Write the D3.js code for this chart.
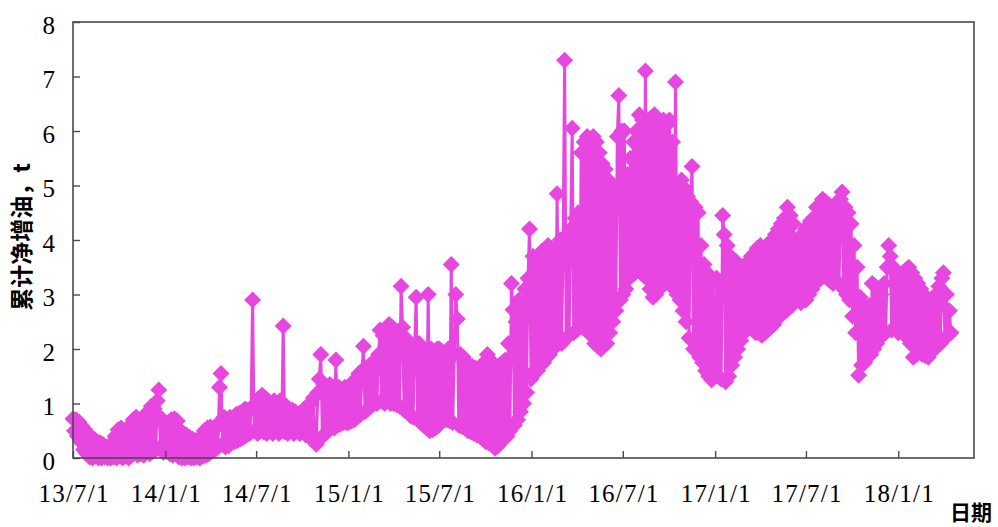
<!DOCTYPE html>
<html>
<head>
<meta charset="utf-8">
<script src="https://cdn.jsdelivr.net/npm/d3@7"></script>
<style>
  html, body { margin: 0; padding: 0; background: #ffffff; }
  svg { display: block; }
</style>
</head>
<body>
<svg id="chart" width="998" height="527"></svg>
<script>
// Cumulative net oil increment (t), sampled every 3 days, one array per half-year.
const sampleStepDays = 3;

const seg2013H2 = [0.72,0.5,0.7,0.4,0.66,0.3,0.58,0.15,0.52,0.08,0.42,0.02,0.38,0.0,0.35,0.03,0.3,0.0,0.28,0.0,
  0.25,0.02,0.2,0.0,0.22,0.0,0.18,0.02,0.4,0.0,0.52,0.05,0.55,0.0,0.45,0.03,0.38,0.0,0.6,0.05,
  0.7,0.1,0.75,0.05,0.68,0.08,0.72,0.05,0.8,0.1,0.85,0.08,0.95,0.12,0.9,0.15,1.05,1.25,0.2,0.72,
  0.1,0.65];
const seg2014H1 = [0.6,0.12,0.65,0.08,0.7,0.05,0.72,0.1,0.68,0.02,0.5,0.0,0.45,0.0,0.42,0.02,0.38,0.0,0.35,0.0,
  0.32,0.02,0.3,0.0,0.4,0.03,0.5,0.05,0.55,0.08,0.57,0.12,0.5,0.15,0.6,0.2,1.3,1.55,0.25,0.75,
  0.2,0.7,0.22,0.75,0.28,0.7,0.3,0.8,0.32,0.82,0.35,0.85,0.38,0.9,0.42,0.88,0.45,0.9,2.9,0.5,
  1.0];
const seg2014H2 = [1.0,0.45,1.1,0.5,1.15,0.48,1.1,0.45,1.05,0.5,1.0,0.45,1.05,0.5,0.98,0.45,1.05,0.5,2.42,0.48,
  0.95,0.45,0.9,0.5,0.88,0.45,0.85,0.5,0.8,0.45,0.82,0.5,0.9,0.42,0.95,0.4,1.0,0.35,1.1,0.3,
  0.25,1.2,1.45,1.9,0.4,1.35,0.45,1.3,0.5,1.35,0.55,1.3,0.55,1.8,0.6,1.3,0.62,1.25,0.65,1.3,
  0.65,1.25];
const seg2015H1 = [0.65,1.3,0.68,1.4,0.7,1.45,0.75,1.55,0.8,1.6,2.05,0.85,1.65,0.9,1.7,0.95,1.75,1.0,1.8,1.0,
  1.9,2.35,1.05,2.25,1.0,2.3,1.05,2.45,1.0,2.4,1.0,2.35,0.98,2.3,0.95,3.15,2.4,0.88,2.2,0.85,
  2.1,0.78,2.05,0.75,2.0,2.95,0.7,2.1,0.65,2.0,0.6,1.95,0.55,3.0,0.5,2.0,0.52,1.95,0.55,2.0,
  0.6];
const seg2015H2 = [2.0,0.75,1.95,0.72,1.9,0.7,2.0,0.68,3.55,0.65,1.9,3.0,2.55,0.6,1.9,0.58,1.85,0.55,1.75,0.5,
  1.7,0.48,1.68,0.45,1.65,0.42,1.6,0.4,1.7,0.35,1.75,0.3,1.9,0.28,1.8,0.25,1.65,0.18,1.6,0.22,
  1.7,0.3,1.75,0.35,1.8,0.4,2.1,0.5,3.2,2.72,0.6,2.5,0.7,2.9,0.85,2.8,1.0,3.1,1.2,3.3,
  4.2,1.45];
const seg2016H1 = [1.55,3.7,1.58,3.5,1.6,3.6,1.7,3.8,1.75,3.75,1.85,3.9,1.9,3.85,2.0,3.8,2.05,4.85,2.1,4.0,
  2.1,3.95,7.3,2.2,4.1,2.25,4.2,6.05,2.3,4.4,2.35,4.5,2.4,5.6,2.4,5.8,2.35,5.9,2.3,5.85,
  2.25,5.9,2.1,5.8,2.05,5.6,2.0,5.4,2.05,5.3,2.1,5.1,2.3,5.0,2.5,4.85,2.7,5.9,6.65,2.9,
  6.0];
const seg2016H2 = [3.0,6.0,3.1,5.2,3.3,5.5,3.35,5.8,3.4,6.0,3.45,6.3,3.4,6.2,3.35,7.1,3.3,6.2,3.1,6.25,
  2.95,6.3,3.0,6.1,3.1,6.0,3.15,6.2,3.2,6.1,3.25,6.2,3.2,5.8,3.1,6.9,3.0,5.0,2.9,5.1,
  2.7,4.95,2.5,4.8,2.2,4.7,5.35,2.0,4.6,1.95,4.5,1.85,3.9,1.75,3.55,1.6,3.4,1.5,3.3,1.43,
  3.2,1.5];
const seg2017H1 = [1.55,3.3,1.5,3.2,1.45,4.45,4.1,1.4,3.9,1.5,3.7,1.7,3.65,1.85,3.6,2.0,3.5,2.15,3.5,2.3,
  3.55,2.35,3.6,2.4,3.7,2.35,3.75,2.3,3.85,2.3,3.9,2.25,3.85,2.3,3.8,2.35,3.95,2.4,4.0,2.45,
  4.1,2.55,4.2,2.6,4.3,2.65,4.4,2.7,4.6,2.75,4.45,2.8,4.3,2.9,4.0,2.9,4.0,2.85,4.1,2.9,
  4.2];
const seg2017H2 = [2.9,4.25,3.0,4.35,3.1,4.4,3.2,4.6,3.25,4.55,3.3,4.75,3.35,4.7,3.3,4.65,3.25,4.5,3.2,4.6,
  3.25,4.7,3.2,4.75,4.88,3.1,4.6,3.0,4.5,2.9,4.3,2.6,3.9,2.3,3.5,1.52,2.95,1.7,2.8,1.75,
  2.6,1.85,2.8,1.9,3.2,2.0,3.15,2.1,3.1,2.2,3.0,2.25,3.2,2.3,3.5,3.9,3.7,2.35,3.5,2.4,
  3.4,2.35];
const seg2018H1 = [2.3,3.3,2.35,3.4,2.3,3.45,2.2,3.5,2.1,3.4,1.85,3.3,1.9,3.2,2.0,3.1,1.9,3.0,1.88,2.85,
  1.85,2.8,1.95,2.9,2.0,3.0,2.05,3.15,2.1,3.3,3.4,2.2,3.0,2.25,2.7,2.3];

const segmentStarts = ["2013-07-01","2014-01-01","2014-07-01","2015-01-01","2015-07-01",
                       "2016-01-01","2016-07-01","2017-01-01","2017-07-01","2018-01-01"];
const segments = [seg2013H2, seg2014H1, seg2014H2, seg2015H1, seg2015H2,
                  seg2016H1, seg2016H2, seg2017H1, seg2017H2, seg2018H1];

const xTickDates = ["2013-07-01","2014-01-01","2014-07-01","2015-01-01","2015-07-01",
                    "2016-01-01","2016-07-01","2017-01-01","2017-07-01","2018-01-01"];
const xTickLabels = ["13/7/1","14/1/1","14/7/1","15/1/1","15/7/1",
                     "16/1/1","16/7/1","17/1/1","17/7/1","18/1/1"];
const yTicks = [0,1,2,3,4,5,6,7,8];
const yTitle = "累计净增油，t";
const xTitle = "日期";

// Assemble the series
const parse = d3.utcParse("%Y-%m-%d");
const series = [];
segments.forEach((vals, s) => {
  const start = parse(segmentStarts[s]);
  vals.forEach((v, i) => {
    series.push({ date: d3.utcDay.offset(start, i * sampleStepDays), value: v });
  });
});

// Layout
const plot = { left: 73, right: 974, top: 22, bottom: 458 };
const COLOR = "#e846e0";
const AXIS = "#4a4a4a";

const x = d3.scaleUtc()
  .domain([parse("2013-07-01"), parse("2018-06-01")])
  .range([plot.left, plot.right]);
const y = d3.scaleLinear().domain([0, 8]).range([plot.bottom, plot.top]);

const svg = d3.select("#chart");

// Series line and diamond markers
const g = svg.append("g");
g.append("path")
  .datum(series)
  .attr("fill", "none")
  .attr("stroke", COLOR)
  .attr("stroke-width", 3)
  .attr("stroke-linejoin", "round")
  .attr("d", d3.line().x(d => x(d.date)).y(d => y(d.value)));

const diamond = d3.symbol().type(d3.symbolSquare).size(144);
g.selectAll("path.pt")
  .data(series)
  .join("path")
  .attr("class", "pt")
  .attr("d", diamond)
  .attr("fill", COLOR)
  .attr("transform", d => `translate(${x(d.date)},${y(d.value)}) rotate(45)`);

// Plot frame
svg.append("rect")
  .attr("x", plot.left).attr("y", plot.top)
  .attr("width", plot.right - plot.left)
  .attr("height", plot.bottom - plot.top)
  .attr("fill", "none")
  .attr("stroke", AXIS)
  .attr("stroke-width", 1.6);

// Y axis: inside ticks
const yAxis = svg.append("g")
  .attr("transform", `translate(${plot.left},0)`)
  .call(d3.axisLeft(y).tickValues(yTicks).tickFormat(d3.format("d"))
        .tickSizeInner(-7).tickSizeOuter(0).tickPadding(18));
yAxis.select(".domain").remove();
yAxis.selectAll(".tick line").attr("stroke", AXIS).attr("stroke-width", 1.4);
yAxis.selectAll(".tick text")
  .attr("fill", "#000")
  .attr("dy", "0.45em")
  .style("font-family", "'Liberation Serif', 'Times New Roman', serif")
  .style("font-size", "25px");

// X axis: inside ticks
const xAxis = svg.append("g")
  .attr("transform", `translate(0,${plot.bottom})`)
  .call(d3.axisBottom(x).tickValues(xTickDates.map(parse))
        .tickFormat((d, i) => xTickLabels[i])
        .tickSizeInner(-7).tickSizeOuter(0).tickPadding(26));
xAxis.select(".domain").remove();
xAxis.selectAll(".tick line").attr("stroke", AXIS).attr("stroke-width", 1.4);
xAxis.selectAll(".tick text")
  .attr("fill", "#000")
  .attr("dx", "0.6px")
  .style("letter-spacing", "1.2px")
  .style("font-family", "'Liberation Serif', 'Times New Roman', serif")
  .style("font-size", "25px");

// Axis titles
svg.append("text")
  .attr("transform", "translate(30,237) rotate(-90)")
  .attr("text-anchor", "middle")
  .style("font-family", "'Noto Sans CJK SC', sans-serif")
  .style("font-weight", "bold")
  .style("font-size", "23px")
  .attr("fill", "#000")
  .text(yTitle);

svg.append("text")
  .attr("x", 950).attr("y", 520)
  .style("font-family", "'Noto Sans CJK SC', sans-serif")
  .style("font-weight", "bold")
  .style("font-size", "21px")
  .attr("fill", "#000")
  .text(xTitle);
</script>
</body>
</html>
